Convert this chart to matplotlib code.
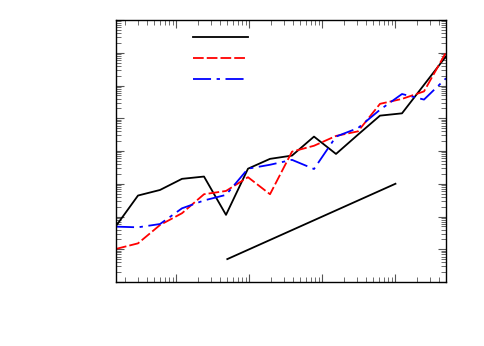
import matplotlib
matplotlib.use("Agg")
import matplotlib.pyplot as plt
import numpy as np

plt.rcParams['lines.scale_dashes'] = False

# x values: 1.5 * 2^k
x = [1.5, 3, 6, 12, 24, 48, 96, 192, 384, 768, 1536, 3072, 6144, 12288, 24576, 49152]
# log10 of values
black_exp = [1.71, 2.64, 2.81, 3.15, 3.22, 2.05, 3.46, 3.76, 3.86, 4.44, 3.91, 4.50, 5.08, 5.15, 6.02, 6.89]
red_exp = [1.01, 1.18, 1.74, 2.10, 2.68, 2.78, 3.20, 2.68, 3.98, 4.16, 4.46, 4.60, 5.44, 5.59, 5.82, 7.01]
blue_exp = [1.69, 1.67, 1.77, 2.25, 2.49, 2.66, 3.46, 3.58, 3.73, 3.45, 4.44, 4.70, 5.26, 5.74, 5.57, 6.22]
ref_x = [50, 10000]
ref_y = [5, 1000]

black = [10 ** v for v in black_exp]
red = [10 ** v for v in red_exp]
blue = [10 ** v for v in blue_exp]

fig = plt.figure(figsize=(4.85, 3.46), dpi=100)
ax = fig.add_axes([116/485, 64/346, 330/485, 262/346])

l1, = ax.plot(x, black, color='black', lw=1.3)
l2, = ax.plot(x, red, color='red', lw=1.3, dashes=(7.7, 2.2))
l3, = ax.plot(x, blue, color='blue', lw=1.3, dashes=(13, 4, 2.4, 4))
ax.plot(ref_x, ref_y, color='black', lw=1.3)

ax.set_xscale('log')
ax.set_yscale('log')
ax.set_xlim(1.5, 49152)
ax.set_ylim(1, 1e8)

ax.tick_params(which='both', direction='in', top=True, right=True,
               labelbottom=False, labelleft=False, color='#555555')
ax.tick_params(which='major', length=6, width=0.8)
ax.tick_params(which='minor', length=3.5, width=0.6)
ax.yaxis.set_minor_locator(matplotlib.ticker.LogLocator(base=10, subs=np.arange(2, 10), numticks=20))
ax.xaxis.set_minor_locator(matplotlib.ticker.LogLocator(base=10, subs=np.arange(2, 10), numticks=20))
ax.yaxis.set_major_locator(matplotlib.ticker.LogLocator(base=10, numticks=20))

leg = ax.legend([l1, l2, l3], [' ', ' ', ' '], frameon=False, handlelength=4,
                labelspacing=0.5, loc='upper left', bbox_to_anchor=(0.195, 1.005))

for s in ax.spines.values():
    s.set_linewidth(1.0)

fig.savefig('out.png', dpi=100)
